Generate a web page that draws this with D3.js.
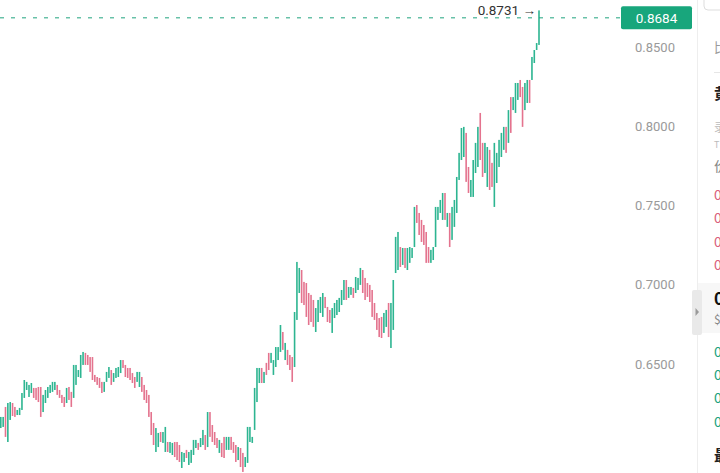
<!DOCTYPE html>
<html>
<head>
<meta charset="utf-8">
<script src="https://cdn.jsdelivr.net/npm/d3@7"></script>
<style>
  html, body { margin: 0; padding: 0; background: #ffffff; overflow: hidden; }
  svg { display: block; font-family: Roboto, "Noto Sans", sans-serif; }
</style>
</head>
<body>
<svg id="chart" width="720" height="473"></svg>
<script>
// ---- data ----
const highs = [
  0.6166,0.6166,0.6229,0.6254,0.6260,0.6254,0.6229,0.6210,0.6223,0.6317,
  0.6399,0.6387,0.6368,0.6380,0.6349,0.6349,0.6355,0.6355,0.6305,0.6336,
  0.6355,0.6368,0.6387,0.6387,0.6368,0.6336,0.6305,0.6292,0.6349,0.6355,
  0.6324,0.6494,0.6494,0.6462,0.6557,0.6576,0.6570,0.6557,0.6544,0.6544,
  0.6431,0.6418,0.6412,0.6387,0.6387,0.6450,0.6481,0.6462,0.6443,0.6475,
  0.6481,0.6525,0.6525,0.6494,0.6475,0.6475,0.6443,0.6418,0.6450,0.6450,
  0.6418,0.6368,0.6336,0.6305,0.6197,0.6128,0.6096,0.6065,0.6071,0.6071,
  0.6103,0.6008,0.6008,0.6002,0.6008,0.6008,0.5989,0.5945,0.5939,0.5958,
  0.5945,0.5958,0.6021,0.6021,0.6002,0.6033,0.6084,0.6052,0.6197,0.6197,
  0.6115,0.6071,0.6033,0.6021,0.6002,0.6040,0.6040,0.6040,0.6040,0.6008,
  0.5989,0.5976,0.5970,0.5939,0.5913,0.6103,0.6103,0.6040,0.6349,0.6475,
  0.6475,0.6475,0.6450,0.6507,0.6570,0.6570,0.6525,0.6607,0.6607,0.6746,
  0.6702,0.6633,0.6589,0.6557,0.6544,0.6828,0.7144,0.7106,0.7093,0.7018,
  0.7011,0.6948,0.6936,0.6904,0.6853,0.6904,0.6923,0.6948,0.6923,0.6860,
  0.6841,0.6853,0.6885,0.6904,0.6917,0.6967,0.7030,0.7030,0.6986,0.6986,
  0.6980,0.7049,0.7043,0.7106,0.7093,0.7043,0.7011,0.6999,0.6967,0.6885,
  0.6822,0.6790,0.6797,0.6822,0.6841,0.6885,0.6885,0.7030,0.7302,0.7333,
  0.7238,0.7232,0.7232,0.7232,0.7238,0.7232,0.7491,0.7503,0.7453,0.7409,
  0.7377,0.7333,0.7238,0.7220,0.7238,0.7491,0.7491,0.7535,0.7579,0.7579,
  0.7453,0.7453,0.7491,0.7535,0.7680,0.7832,0.7989,0.7996,0.7958,0.7743,
  0.7661,0.7787,0.7895,0.7996,0.8084,0.7895,0.7895,0.7869,0.7851,0.7769,
  0.7895,0.7832,0.7914,0.7958,0.7996,0.7996,0.8102,0.8184,0.8184,0.8273,
  0.8273,0.8292,0.8248,0.8273,0.8292,0.8292,0.8437,0.8481,0.8525,0.8731
];
const lows = [
  0.6096,0.6103,0.6040,0.6008,0.6147,0.6172,0.6166,0.6178,0.6178,0.6210,
  0.6286,0.6336,0.6292,0.6317,0.6286,0.6273,0.6260,0.6166,0.6197,0.6254,
  0.6286,0.6317,0.6324,0.6336,0.6305,0.6286,0.6254,0.6229,0.6254,0.6273,
  0.6229,0.6286,0.6368,0.6418,0.6412,0.6494,0.6494,0.6494,0.6450,0.6399,
  0.6387,0.6368,0.6349,0.6317,0.6324,0.6387,0.6412,0.6368,0.6387,0.6412,
  0.6418,0.6443,0.6475,0.6418,0.6412,0.6399,0.6380,0.6349,0.6387,0.6355,
  0.6324,0.6273,0.6254,0.6166,0.6052,0.5989,0.5945,0.5976,0.6008,0.6002,
  0.5945,0.5945,0.5939,0.5926,0.5913,0.5894,0.5882,0.5844,0.5882,0.5907,
  0.5863,0.5876,0.5926,0.5970,0.5958,0.5976,0.5989,0.5958,0.5976,0.6040,
  0.6008,0.5989,0.5970,0.5939,0.5913,0.5907,0.5958,0.5958,0.5958,0.5939,
  0.5882,0.5894,0.5850,0.5819,0.5850,0.5876,0.6008,0.6002,0.6084,0.6260,
  0.6380,0.6380,0.6380,0.6431,0.6462,0.6507,0.6431,0.6481,0.6525,0.6576,
  0.6589,0.6525,0.6494,0.6462,0.6387,0.6481,0.6778,0.6948,0.6885,0.6872,
  0.6797,0.6746,0.6765,0.6734,0.6702,0.6765,0.6822,0.6797,0.6853,0.6765,
  0.6759,0.6696,0.6790,0.6809,0.6828,0.6872,0.6904,0.6904,0.6917,0.6936,
  0.6917,0.6948,0.6967,0.6999,0.6948,0.6904,0.6923,0.6891,0.6797,0.6778,
  0.6715,0.6670,0.6664,0.6696,0.6734,0.6670,0.6601,0.6715,0.7074,0.7093,
  0.7112,0.7125,0.7106,0.7093,0.7138,0.7169,0.7238,0.7390,0.7314,0.7270,
  0.7251,0.7138,0.7138,0.7138,0.7156,0.7238,0.7409,0.7453,0.7409,0.7409,
  0.7365,0.7238,0.7283,0.7365,0.7453,0.7661,0.7787,0.7806,0.7649,0.7579,
  0.7554,0.7554,0.7705,0.7743,0.7787,0.7680,0.7705,0.7617,0.7598,0.7617,
  0.7491,0.7642,0.7743,0.7806,0.7851,0.7832,0.7895,0.7958,0.8102,0.8084,
  0.8166,0.8184,0.7996,0.8102,0.8147,0.8147,0.8292,0.8399,0.8481,0.8513
];
// u = close above open (green), d = close below open (red)
const directions = (
  "uuduudduuu" + "uuuudddduu" + "uuuuddddud" + "duuuuudddd" +
  "dddduuuduu" + "uudddddduu" + "dddddduudu" + "uduuddduud" +
  "uuuuduudud" + "dddudduudd" + "dudduuuuuu" + "ududduuuuu" +
  "duddduuudd" + "dddduuuudd" + "duuuuuuduu" + "duuudddddd" +
  "ddduuduuuu" + "duduuuuddd" + "ddduuuuuud" + "uduuuuuudd" +
  "uuuudduudd" + "uuuuududuu" + "udduuduuuu"
).split("");
const priceTicks = [0.65, 0.70, 0.75, 0.80, 0.85];
const lastPrice = 0.8684;
const highestPrice = 0.8731;
const sideRed = ["0", "0", "0", "0"];
const sideGreen = ["0", "0", "0", "0"];

// ---- drawing ----
const W = 720, H = 473;
const svg = d3.select("#chart");
const n = highs.length;

const y = d3.scaleLinear().domain([0.65, 0.85]).range([364, 47]);
const x = d3.scaleLinear().domain([0, n - 1]).range([0.8, 539]);

const GREEN = "#2db591", RED = "#e4738e";

// bars
const bars = d3.range(n).map(i => ({ i, h: highs[i], l: lows[i], up: directions[i] === "u" }));
svg.append("g")
  .selectAll("rect")
  .data(bars)
  .join("rect")
  .attr("x", d => x(d.i) - 0.8)
  .attr("width", 1.6)
  .attr("y", d => y(d.h))
  .attr("height", d => Math.max(1, y(d.l) - y(d.h)))
  .attr("fill", d => d.up ? GREEN : RED);

// last price dashed line
svg.append("line")
  .attr("x1", 0).attr("x2", 621)
  .attr("y1", y(lastPrice)).attr("y2", y(lastPrice))
  .attr("stroke", "#1fa37e").attr("stroke-width", 1)
  .attr("stroke-dasharray", "4,7");

// price axis
const axis = d3.axisRight(y)
  .tickValues(priceTicks)
  .tickFormat(d3.format(".4f"))
  .tickSize(0)
  .tickPadding(0);
const ag = svg.append("g").attr("transform", "translate(635,0)").call(axis);
ag.select(".domain").remove();
ag.selectAll("text")
  .attr("fill", "#9a9a9a")
  .style("font-size", "13px")
  .style("font-family", "Roboto, sans-serif");

// last price label
svg.append("rect")
  .attr("x", 621).attr("y", y(lastPrice) - 11.5)
  .attr("width", 71).attr("height", 23)
  .attr("rx", 2)
  .attr("fill", "#18a67c");
svg.append("text")
  .attr("x", 656.5).attr("y", y(lastPrice))
  .attr("dy", "0.35em")
  .attr("text-anchor", "middle")
  .attr("fill", "#ffffff")
  .style("font-size", "13.5px")
  .text(d3.format(".4f")(lastPrice));

// highest price marker
svg.append("text")
  .attr("x", x(n - 1) - 3).attr("y", y(highestPrice))
  .attr("dy", "0.35em")
  .attr("text-anchor", "end")
  .attr("fill", "#333333")
  .style("font-size", "13.5px")
  .text(d3.format(".4f")(highestPrice) + " \u2192");

// right side panel (cut off at the window edge, as in the reference)
const panel = svg.append("g");
panel.append("rect").attr("x", 697).attr("y", 0).attr("width", 23).attr("height", H).attr("fill", "#ffffff");
panel.append("line").attr("x1", 697.5).attr("x2", 697.5).attr("y1", 0).attr("y2", H)
  .attr("stroke", "#eeeeee").attr("stroke-width", 1);
panel.append("rect").attr("x", 704).attr("y", -12).attr("width", 40).attr("height", 22).attr("rx", 4)
  .attr("fill", "none").attr("stroke", "#dddddd");
panel.append("line").attr("x1", 714).attr("x2", 720).attr("y1", 72.5).attr("y2", 72.5)
  .attr("stroke", "#e6e6e6");
panel.append("rect").attr("x", 698).attr("y", 283).attr("width", 22).attr("height", 50).attr("fill", "#f7f7f7");

const sideText = (ty, txt, fill, size, weight) =>
  panel.append("text").attr("x", 714).attr("y", ty).attr("dy", "0.35em")
    .attr("fill", fill).style("font-size", size + "px").style("font-weight", weight || 400)
    .style("font-family", "'Noto Sans CJK SC', Roboto, sans-serif").text(txt);

sideText(47, "比", "#9a9a9a", 13);
sideText(94, "黄", "#222222", 15, 700);
sideText(128, "录", "#bbbbbb", 12);
sideText(145, "T", "#bbbbbb", 9);
sideText(166, "价", "#888888", 14);
[195, 218, 242, 265].forEach((ty, k) => sideText(ty, sideRed[k], "#d9607c", 14));
sideText(299, "0", "#111111", 17, 700);
sideText(320, "$", "#888888", 12);
[352, 375, 398, 422].forEach((ty, k) => sideText(ty, sideGreen[k], "#22a27d", 14));
sideText(456, "最", "#222222", 15, 700);

// collapse tab
panel.append("rect").attr("x", 692).attr("y", 290).attr("width", 10).attr("height", 45).attr("rx", 2)
  .attr("fill", "#e9e9e9");
panel.append("path").attr("d", "M695.5,308 L699,312 L695.5,316 Z").attr("fill", "#9a9a9a");
</script>
</body>
</html>
